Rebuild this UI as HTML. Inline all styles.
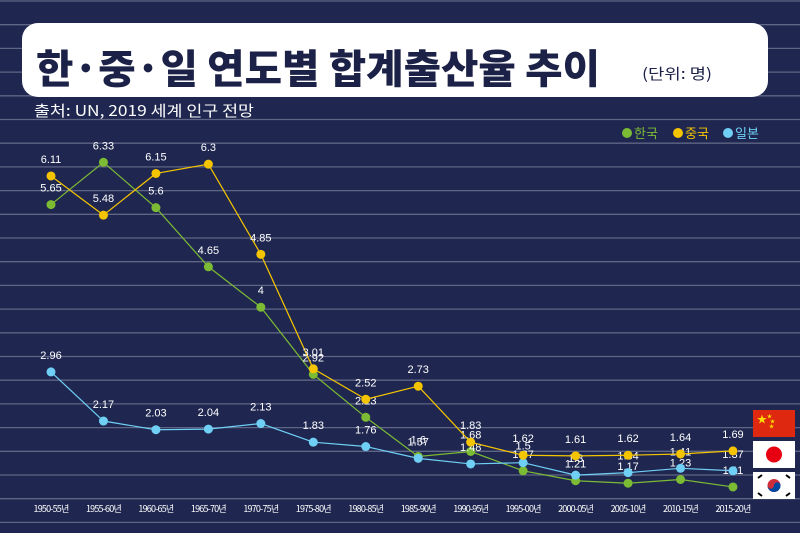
<!DOCTYPE html>
<html><head><meta charset="utf-8"><style>
body{margin:0;width:800px;height:533px;overflow:hidden;background:#1f2750;font-family:"Liberation Sans","Noto Sans CJK KR",sans-serif}
svg{display:block}
</style></head><body>
<svg id="chart" width="800" height="533" viewBox="0 0 800 533" xmlns="http://www.w3.org/2000/svg">
<rect width="800" height="533" fill="#1f2750"/>
<g id="grid"></g>
<rect x="22" y="23" width="746" height="74" rx="16" fill="#fff"/>
<text x="36" y="83" font-size="40" font-weight="900" fill="#1c2147" font-family="'Noto Sans CJK KR',sans-serif" textLength="564" lengthAdjust="spacingAndGlyphs">한·중·일 연도별 합계출산율 추이</text>
<text x="642" y="79" font-size="15" fill="#1c2147" font-family="'Noto Sans CJK KR',sans-serif" textLength="70" lengthAdjust="spacingAndGlyphs">(단위: 명)</text>
<text x="34" y="116" font-size="15" fill="#fff" font-family="'Noto Sans CJK KR',sans-serif" textLength="220" lengthAdjust="spacingAndGlyphs">출처: UN, 2019 세계 인구 전망</text>
<g font-size="13" font-family="'Noto Sans CJK KR',sans-serif">
<circle cx="627" cy="133" r="5" fill="#7cbb34"/>
<text x="634" y="138" fill="#7cbb34">한국</text>
<circle cx="678" cy="133" r="5" fill="#f5c400"/>
<text x="685" y="138" fill="#f5c400">중국</text>
<circle cx="728" cy="133" r="5" fill="#6fcff5"/>
<text x="735" y="138" fill="#6fcff5">일본</text>
</g>
<g id="xlabels"></g>
<g id="series"></g>
<g>
<g><rect x="753" y="410" width="42" height="27" fill="#de2910"/><text x="757" y="423" font-size="10" fill="#ffde00">★</text><text x="767" y="418" font-size="5" fill="#ffde00">★</text><text x="770" y="423" font-size="5" fill="#ffde00">★</text><text x="769" y="428" font-size="5" fill="#ffde00">★</text></g>
<g><rect x="753" y="441" width="42" height="27" fill="#fff"/><circle cx="774" cy="454.5" r="8" fill="#e60012"/></g>
<g><rect x="753" y="472" width="42" height="27" fill="#fff"/><circle cx="774" cy="485.5" r="6.5" fill="#cd2e3a"/><path d="M767.5 485.5a6.5 6.5 0 0 0 13 0a3.25 3.25 0 0 0-6.5 0a3.25 3.25 0 0 1-6.5 0z" fill="#0047a0"/><g stroke="#000" stroke-width="2"><line x1="758" y1="478" x2="762" y2="475"/><line x1="786" y1="475" x2="790" y2="478"/><line x1="758" y1="493" x2="762" y2="496"/><line x1="786" y1="496" x2="790" y2="493"/></g></g>
</g>
</svg>
<script>
const categories=["1950-55년","1955-60년","1960-65년","1965-70년","1970-75년","1975-80년","1980-85년","1985-90년","1990-95년","1995-00년","2000-05년","2005-10년","2010-15년","2015-20년"];
const korea=[5.65,6.33,5.6,4.65,4,2.92,2.23,1.6,1.68,1.37,1.21,1.17,1.23,1.11];
const china=[6.11,5.48,6.15,6.3,4.85,3.01,2.52,2.73,1.83,1.62,1.61,1.62,1.64,1.69];
const japan=[2.96,2.17,2.03,2.04,2.13,1.83,1.76,1.57,1.48,1.5,1.3,1.34,1.41,1.37];
const NS="http://www.w3.org/2000/svg";
const x=i=>51+i*52.46;
const y=v=>556-62.2*v;
function mk(t,a,p){const e=document.createElementNS(NS,t);for(const k in a)e.setAttribute(k,a[k]);p.appendChild(e);return e;}
const grid=document.getElementById('grid');
for(let k=0;k<23;k++){const g=mk('line',{x1:0,x2:800,y1:1+k*23.7,y2:1+k*23.7,stroke:'#5f6584','stroke-width':1.3},grid);

}
const xl=document.getElementById('xlabels');
categories.forEach((c,i)=>{const t=mk('text',{x:x(i),y:512,'font-size':9,fill:'#fff','text-anchor':'middle','letter-spacing':'-0.8','font-family':"'Noto Sans CJK KR',sans-serif"},xl);t.textContent=c;

});
const ser=document.getElementById('series');
[[korea,'#7cbb34','korea'],[japan,'#6fcff5','japan'],[china,'#f5c400','china']].forEach(([d,col,n])=>{
const pl=mk('polyline',{points:d.map((v,i)=>x(i)+','+y(v)).join(' '),fill:'none',stroke:col,'stroke-width':1.2},ser);


d.forEach((v,i)=>{const c=mk('circle',{cx:x(i),cy:y(v),r:4.5,fill:col},ser);


const t=mk('text',{x:x(i),y:y(v)-13,'font-size':11,fill:'#fff','text-anchor':'middle'},ser);t.textContent=String(v);

});});
</script>
</body></html>
